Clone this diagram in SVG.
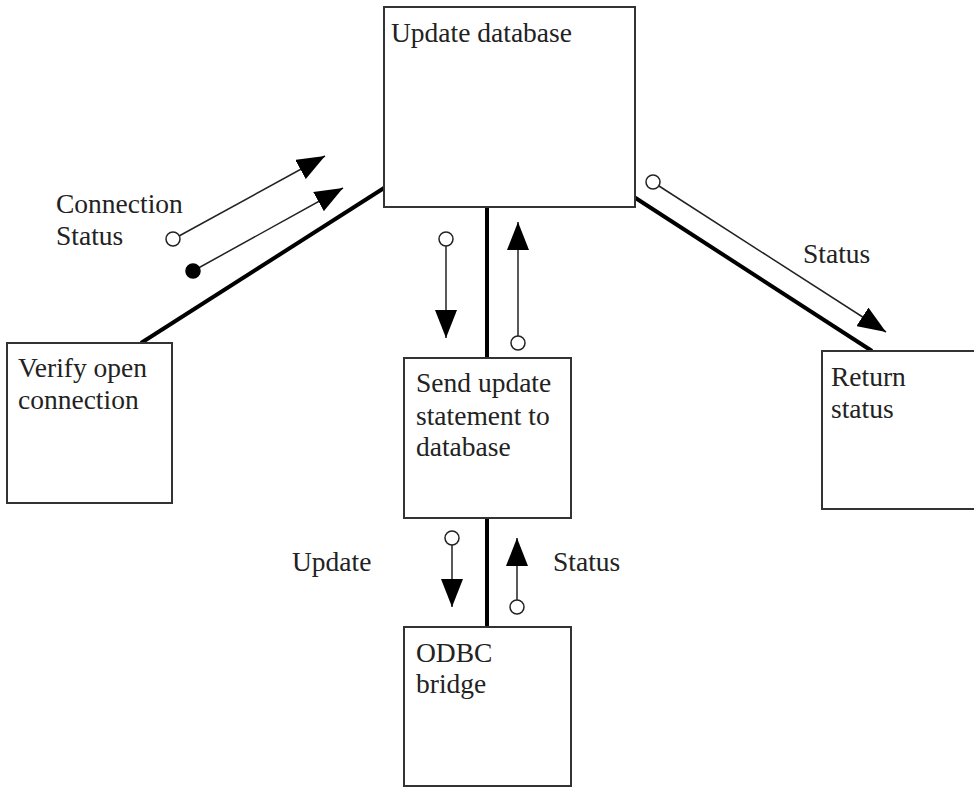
<svg xmlns="http://www.w3.org/2000/svg" width="974" height="788" viewBox="0 0 974 788">
<defs>
<style>
.box{fill:#fff;stroke:#333;stroke-width:2}
.t{font-family:"Liberation Serif","Times New Roman",serif;font-size:27.5px;fill:#222}
.link{stroke:#000;stroke-width:4;fill:none}
.flow{stroke:#222;stroke-width:1.5;fill:none;marker-end:url(#ah)}
.oc{fill:#fff;stroke:#222;stroke-width:1.5}
.fc{fill:#000;stroke:#000;stroke-width:1.5}
</style>
<marker id="ah" markerUnits="userSpaceOnUse" markerWidth="28" markerHeight="22" refX="28" refY="11" orient="auto">
<path d="M0,0 L28,11 L0,22 Z" fill="#000"/>
</marker>
</defs>
<rect width="974" height="788" fill="#fff"/>
<g id="connectors">
<line class="link" x1="141" y1="343" x2="384" y2="188"/>
<line class="link" x1="487" y1="207" x2="487" y2="358"/>
<line class="link" x1="634" y1="197" x2="872" y2="351"/>
<line class="link" x1="487" y1="518" x2="487" y2="627"/>
<line class="flow" x1="179" y1="236" x2="325" y2="156"/>
<circle class="oc" cx="173" cy="239" r="7"/>
<line class="flow" x1="193" y1="271" x2="343" y2="188"/>
<circle class="fc" cx="193" cy="271" r="7"/>
<line class="flow" x1="446" y1="246" x2="446" y2="338"/>
<circle class="oc" cx="446" cy="239" r="7"/>
<line class="flow" x1="518" y1="336" x2="518" y2="222"/>
<circle class="oc" cx="518" cy="343" r="7"/>
<line class="flow" x1="659" y1="186" x2="886" y2="332"/>
<circle class="oc" cx="653" cy="182" r="7"/>
<line class="flow" x1="452" y1="545" x2="452" y2="607"/>
<circle class="oc" cx="452" cy="538" r="7"/>
<line class="flow" x1="517" y1="600" x2="517" y2="538"/>
<circle class="oc" cx="517" cy="607" r="7"/>
<text class="t" x="56" y="213">Connection</text>
<text class="t" x="56" y="245">Status</text>
<text class="t" x="803" y="263">Status</text>
<text class="t" x="292" y="571">Update</text>
<text class="t" x="553" y="571">Status</text>
</g>
<g id="update-database">
<rect class="box" x="384" y="7" width="251" height="200"/>
<text class="t" x="391" y="42">Update database</text>
</g>
<g id="verify-open-connection">
<rect class="box" x="7" y="343" width="165" height="160"/>
<text class="t" x="18" y="377">Verify open</text>
<text class="t" x="18" y="409">connection</text>
</g>
<g id="send-update">
<rect class="box" x="404" y="358" width="167" height="160"/>
<text class="t" x="416" y="392">Send update</text>
<text class="t" x="416" y="425">statement to</text>
<text class="t" x="416" y="456">database</text>
</g>
<g id="return-status">
<rect class="box" x="822" y="351" width="160" height="158"/>
<text class="t" x="831" y="386">Return</text>
<text class="t" x="831" y="418">status</text>
</g>
<g id="odbc-bridge">
<rect class="box" x="404" y="627" width="167" height="159"/>
<text class="t" x="416" y="662">ODBC</text>
<text class="t" x="416" y="693">bridge</text>
</g>
</svg>
